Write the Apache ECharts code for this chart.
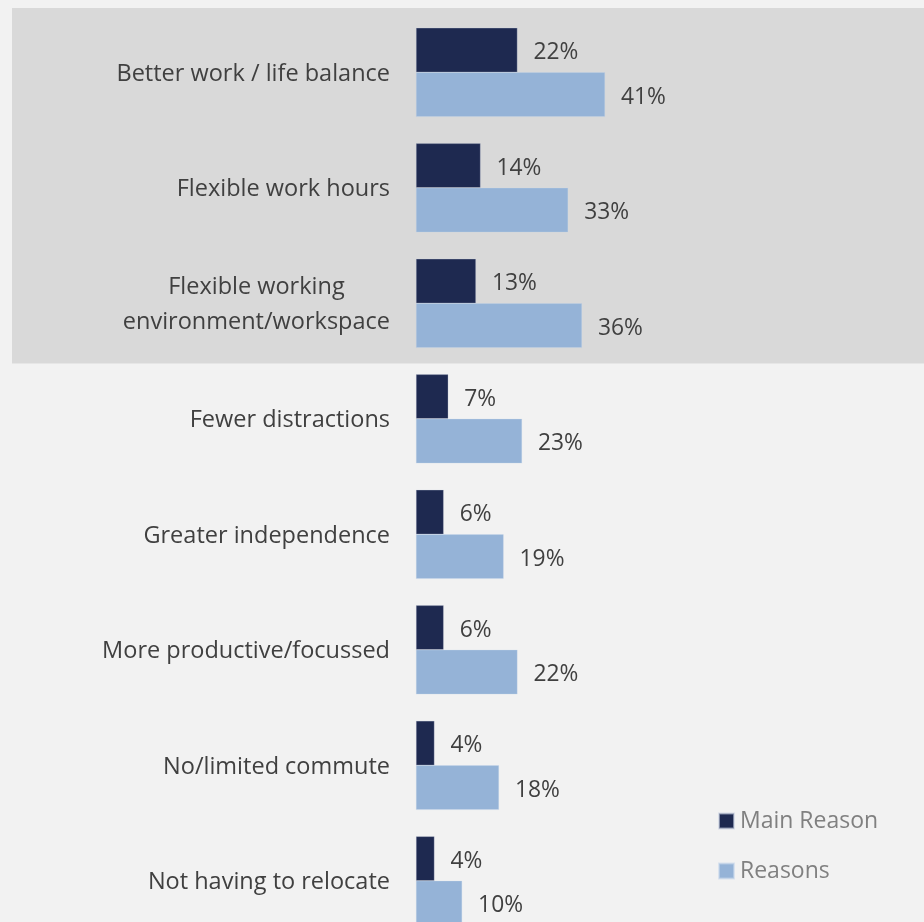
<!DOCTYPE html>
<html>
<head>
<meta charset="utf-8">
<script src="https://cdn.jsdelivr.net/npm/echarts@6/dist/echarts.min.js"></script>
<style>
html,body{margin:0;padding:0;background:#f2f2f2;overflow:hidden;}
#chart{width:924px;height:945px;}
</style>
</head>
<body>
<div id="chart"></div>
<script>
var categories = [
  'Better work / life balance',
  'Flexible work hours',
  'Flexible working\nenvironment/workspace',
  'Fewer distractions',
  'Greater independence',
  'More productive/focussed',
  'No/limited commute',
  'Not having to relocate'
];
var mainReason = [22, 14, 13, 7, 6, 6, 4, 4];
var reasons = [41, 33, 36, 23, 19, 22, 18, 10];
var seriesNames = ['Main Reason', 'Reasons'];

var FONT = '"Open Sans", sans-serif';
var chart = echarts.init(document.getElementById('chart'), null, {renderer: 'canvas'});

function labelFmt(v) {
  return v.split('\n').map(function (s) { return '{c|' + s + '}'; }).join('\n');
}

chart.setOption({
  backgroundColor: '#f2f2f2',
  animation: false,
  graphic: [{
    type: 'rect',
    z: -10,
    silent: true,
    shape: {x: 12, y: 8, width: 912, height: 355.6},
    style: {fill: '#d9d9d9'}
  }],
  legend: {
    orient: 'vertical',
    left: 718,
    top: 809.5,
    padding: 0,
    itemWidth: 15,
    itemHeight: 15,
    itemGap: 27,
    icon: 'rect',
    data: seriesNames,
    textStyle: {fontFamily: FONT, fontSize: 23, color: '#808080', lineHeight: 22, padding: [0, 0, 0, 1]}
  },
  grid: {left: 416, top: 14.6, width: 461, height: 924, containLabel: false},
  xAxis: {
    type: 'value', min: 0, max: 100, show: false
  },
  yAxis: {
    type: 'category',
    inverse: true,
    data: categories,
    axisLine: {show: false},
    axisTick: {show: false},
    splitLine: {show: false},
    axisLabel: {
      margin: 26,
      align: 'right',
      formatter: labelFmt,
      rich: {
        c: {align: 'center', fontFamily: FONT, fontSize: 23.5, lineHeight: 35, color: '#404040', padding: [3, 0, 0, 0]}
      }
    }
  },
  series: [{
    name: seriesNames[0],
    type: 'bar',
    data: mainReason,
    barWidth: 44.5,
    barGap: '0%',
    itemStyle: {color: '#1e2950', borderColor: 'rgba(200,208,225,0.6)', borderWidth: 0.5},
    label: {show: true, position: 'right', distance: 16, offset: [0, 2.5],
      formatter: '{c}%', fontFamily: FONT, fontSize: 22.8, color: '#404040'}
  }, {
    name: seriesNames[1],
    type: 'bar',
    data: reasons,
    barWidth: 44.5,
    barGap: '0%',
    itemStyle: {color: '#95b3d7', borderColor: 'rgba(200,215,235,0.6)', borderWidth: 0.5},
    label: {show: true, position: 'right', distance: 16, offset: [0, 2.5],
      formatter: '{c}%', fontFamily: FONT, fontSize: 22.8, color: '#404040'}
  }]
});
</script>
</body>
</html>
